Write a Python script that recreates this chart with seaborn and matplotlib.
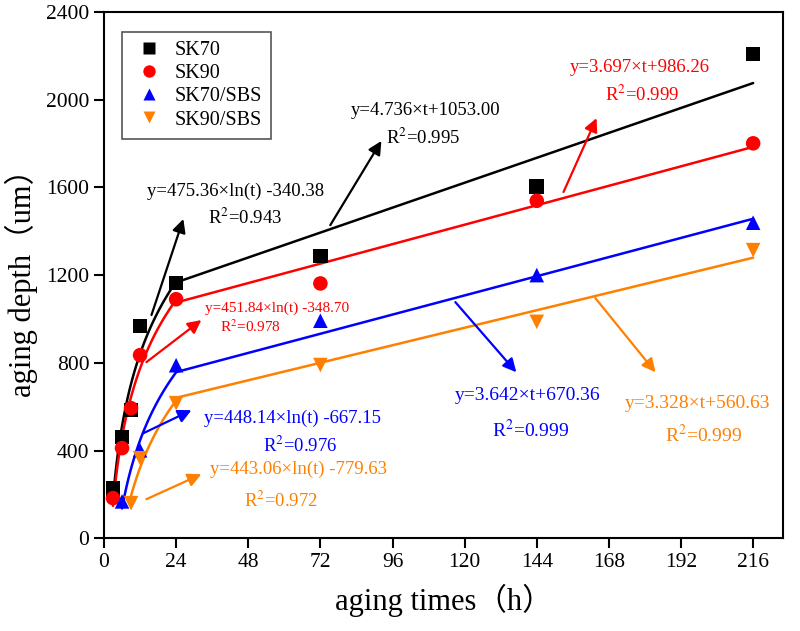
import numpy as np
import pandas as pd
import matplotlib
matplotlib.use("Agg")
import matplotlib.pyplot as plt
import seaborn as sns

# measured points (aging time in h, aging depth in um)
sk70_t = [3, 6, 9, 12, 24, 72, 144, 216]
sk70_d = [228, 462, 585, 967, 1165, 1287, 1603, 2208]
sk90_t = [3, 6, 9, 12, 24, 72, 144, 216]
sk90_d = [183, 411, 593, 835, 1090, 1162, 1539, 1801]
sk70sbs_t = [6, 12, 24, 72, 144, 216]
sk70sbs_d = [168, 401, 789, 992, 1200, 1439]
sk90sbs_t = [9, 12, 24, 72, 144, 216]
sk90sbs_d = [160, 365, 616, 790, 987, 1314]

names = ["SK70", "SK90", "SK70/SBS", "SK90/SBS"]
colors = ["#000000", "#FF0000", "#0000FF", "#FF8000"]
markers = ["s", "o", "^", "v"]

# fit coefficients printed on the chart
log_a = [475.36, 451.84, 448.14, 443.06]
log_b = [-340.38, -348.70, -667.15, -779.63]
log_r2 = ["0.943", "0.978", "0.976", "0.972"]
lin_k = [4.736, 3.697, 3.642, 3.328]
lin_c = [1053.00, 986.26, 670.36, 560.63]
lin_r2 = ["0.995", "0.999", "0.999", "0.999"]
log_start = [3, 3, 6, 9]
split_t = 24
end_t = 216

all_t = [sk70_t, sk90_t, sk70sbs_t, sk90sbs_t]
all_d = [sk70_d, sk90_d, sk70sbs_d, sk90sbs_d]
points = pd.concat([
    pd.DataFrame({"time": t, "depth": d, "sample": n})
    for t, d, n in zip(all_t, all_d, names)
])

fits = []
for i, n in enumerate(names):
    tl = np.linspace(log_start[i], split_t, 80)
    fits.append(pd.DataFrame({"time": tl, "depth": log_a[i] * np.log(tl) + log_b[i],
                              "sample": n, "part": "log"}))
    tr = np.array([split_t, end_t])
    fits.append(pd.DataFrame({"time": tr, "depth": lin_k[i] * tr + lin_c[i],
                              "sample": n, "part": "lin"}))
fits = pd.concat(fits)

serif = ["Liberation Serif", "Noto Sans CJK SC"]
sns.set_style("white")
plt.rcParams["font.family"] = serif
plt.rcParams["mathtext.fontset"] = "stix"
plt.rcParams["text.color"] = "black"
plt.rcParams["axes.labelcolor"] = "black"

fig = plt.figure(figsize=(8, 6.31), dpi=100)
ax = fig.add_axes([0.13, 0.147, 0.849, 0.834])

palette = dict(zip(names, colors))
for i, n in enumerate(names):
    sub = fits[fits["sample"] == n]
    for part in ["log", "lin"]:
        seg = sub[sub["part"] == part]
        sns.lineplot(data=seg, x="time", y="depth", color=colors[i], lw=1.8,
                     ax=ax, legend=False, sort=False)

sns.scatterplot(data=points, x="time", y="depth", hue="sample", style="sample",
                palette=palette, markers=dict(zip(names, markers)), s=110,
                edgecolor="none", ax=ax, zorder=3)

ax.set_xlim(0, 226)
ax.set_ylim(0, 2400)
ax.set_xticks(np.arange(0, 217, 24))
ax.set_yticks(np.arange(0, 2401, 400))
ax.tick_params(axis="both", which="major", direction="out", length=7, width=1.5,
               labelsize=15.5, colors="black", bottom=True, left=True,
               top=False, right=False)
for s in ax.spines.values():
    s.set_linewidth(1.5)
    s.set_color("black")
ax.set_xlabel("aging times（h）", fontsize=22, family=serif, labelpad=9)
ax.set_ylabel("aging depth（um）", fontsize=22, family=serif, labelpad=6)

leg = ax.legend(loc="upper left", bbox_to_anchor=(0.026, 0.962), borderaxespad=0,
                fontsize=14.5, frameon=True, fancybox=False, edgecolor="#555555",
                framealpha=1, handletextpad=0.4, handlelength=1.8, borderpad=0.45,
                labelspacing=0.2, markerscale=0.85)
leg.get_frame().set_linewidth(1.2)

# equation labels: (text pos, r2 pos, arrow tail, arrow head, font size)
log_layout = [
    ((43.7, 1580), (47.0, 1460), (15.8, 1018), (26.4, 1456), 13.5),
    ((57.5, 1049), (48.7, 963), (14.1, 803), (32.4, 995), 11),
    ((62.7, 548), (65.4, 420), (13.1, 479), (29.1, 584), 13.5),
    ((64.7, 315), (59.0, 170), (14.1, 178), (32.4, 292), 13.5),
]
lin_layout = [
    ((107.0, 1953), (106.3, 1825), (75.3, 1428), (92.3, 1812), 13.5),
    ((178.2, 2149), (179.2, 2021), (152.9, 1579), (163.9, 1916), 13.5),
    ((141.0, 652), (142.0, 492), (116.9, 1077), (137.2, 757), 14),
    ((197.5, 616), (199.5, 470), (163.5, 1095), (183.5, 757), 14),
]

for i in range(4):
    tp, rp, tail, head, fs = log_layout[i]
    ax.text(*tp, f"y={log_a[i]:.2f}×ln(t) {log_b[i]:.2f}", color=colors[i],
            fontsize=fs, ha="center", va="center")
    ax.text(*rp, f"R$^2$={log_r2[i]}", color=colors[i], fontsize=fs,
            ha="center", va="center")
    ax.annotate("", xy=head, xytext=tail,
                arrowprops=dict(arrowstyle="-|>", color=colors[i], lw=1.6,
                                mutation_scale=20, shrinkA=0, shrinkB=0))
    tp, rp, tail, head, fs = lin_layout[i]
    ax.text(*tp, f"y={lin_k[i]:.3f}×t+{lin_c[i]:.2f}", color=colors[i],
            fontsize=fs, ha="center", va="center")
    ax.text(*rp, f"R$^2$={lin_r2[i]}", color=colors[i], fontsize=fs,
            ha="center", va="center")
    ax.annotate("", xy=head, xytext=tail,
                arrowprops=dict(arrowstyle="-|>", color=colors[i], lw=1.6,
                                mutation_scale=20, shrinkA=0, shrinkB=0))

fig.savefig("out.png", dpi=100)
